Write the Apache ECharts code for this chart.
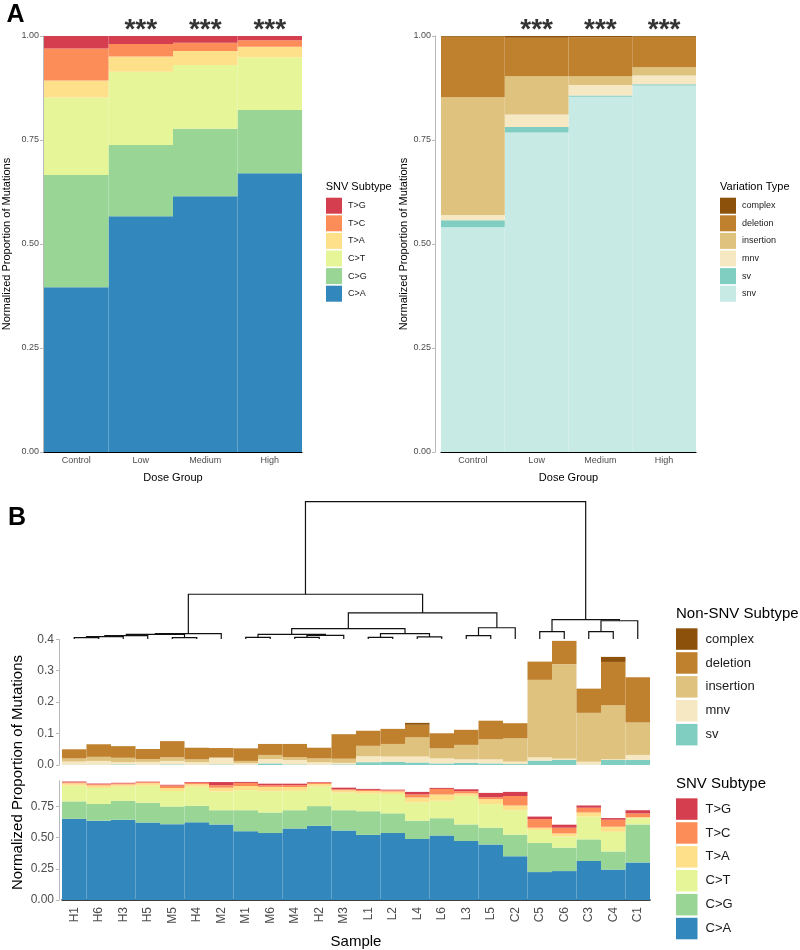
<!DOCTYPE html>
<html><head><meta charset="utf-8">
<script src="https://cdn.jsdelivr.net/npm/echarts@6/dist/echarts.min.js"></script>
<style>html,body{margin:0;padding:0;background:#fff}#c{width:800px;height:950px}</style>
</head><body><div id="c"></div>
<script>
// ---------------- DATA ----------------
const doseGroups = ['Control', 'Low', 'Medium', 'High'];
const signifGroups = ['Low', 'Medium', 'High'];
const signifLabel = '***';

// Panel A left: SNV subtype proportions per dose group
const groupCA = [0.396, 0.567, 0.615, 0.670];
const groupCG = [0.270, 0.171, 0.162, 0.152];
const groupCT = [0.186, 0.176, 0.153, 0.127];
const groupTA = [0.041, 0.037, 0.034, 0.025];
const groupTC = [0.077, 0.030, 0.020, 0.016];
const groupTG = [0.030, 0.019, 0.016, 0.010];

// Panel A right: variation type proportions per dose group
const groupSnv     = [0.540, 0.768, 0.854, 0.881];
const groupSv      = [0.017, 0.013, 0.003, 0.003];
const groupMnv     = [0.013, 0.030, 0.025, 0.021];
const groupIns     = [0.283, 0.092, 0.021, 0.020];
const groupDel     = [0.145, 0.093, 0.094, 0.073];
const groupComplex = [0.002, 0.004, 0.003, 0.002];

// Panel B samples (dendrogram order)
const sampleOrder = ['H1','H6','H3','H5','M5','H4','M2','M1','M6','M4','H2','M3',
                     'L1','L2','L4','L6','L3','L5','C2','C5','C6','C3','C4','C1'];

// Panel B top: non-SNV subtypes
const sampleSv      = [.001,.001,.002,.001,.002,.001,.002,.001,.005,.002,.001,.002,.009,.010,.008,.005,.007,.005,.003,.014,.016,.001,.016,.016];
const sampleMnv     = [.010,.012,.007,.009,.011,.008,.020,.005,.014,.014,.008,.005,.019,.017,.019,.016,.011,.013,.008,.011,.005,.009,.002,.016];
const sampleIns     = [.010,.013,.014,.009,.012,.009,.002,.007,.013,.009,.012,.013,.033,.040,.061,.032,.046,.064,.074,.246,.300,.156,.172,.103];
const sampleDel     = [.029,.040,.037,.032,.051,.037,.030,.040,.035,.042,.034,.078,.048,.048,.040,.048,.048,.059,.048,.058,.074,.077,.138,.144];
const sampleComplex = [0,0,0,0,0,0,0,0,0,0,0,0,0,0,.006,0,0,0,0,0,0,0,.016,0];

// Panel B bottom: SNV subtypes
const sampleCA = [.651,.636,.644,.621,.608,.623,.606,.552,.537,.573,.595,.557,.522,.537,.489,.517,.473,.445,.351,.224,.232,.313,.244,.300];
const sampleCG = [.140,.134,.151,.159,.142,.132,.114,.168,.165,.147,.158,.163,.190,.158,.147,.139,.133,.135,.173,.234,.188,.173,.145,.306];
const sampleCT = [.127,.129,.114,.137,.124,.154,.151,.161,.170,.156,.157,.142,.141,.155,.148,.140,.229,.189,.196,.104,.089,.183,.158,.050];
const sampleTA = [.018,.020,.018,.020,.024,.020,.030,.033,.035,.030,.020,.018,.020,.020,.038,.050,.020,.040,.038,.018,.025,.033,.041,.008];
const sampleTC = [.008,.010,.008,.008,.020,.010,.020,.025,.013,.015,.010,.008,.010,.010,.025,.045,.018,.015,.076,.069,.046,.038,.056,.031];
const sampleTG = [.006,.005,.005,.004,.006,.006,.025,.008,.013,.012,.005,.013,.008,.005,.020,.008,.015,.035,.033,.020,.024,.018,.013,.025];

// Dendrogram merges: [childA, childB, height]; numbers refer to earlier merges
const dendroMerges = [
  ['H1','H6',0.0095], [0,'H3',0.017], [1,'H5',0.024], ['M5','H4',0.0095],
  [2,3,0.033], [4,'M2',0.039],
  ['M1','M6',0.012], ['M4','H2',0.012], [7,'M3',0.027], [6,8,0.034],
  ['L1','L2',0.012], ['L4','L6',0.015], [10,11,0.039], [9,12,0.076],
  ['L3','L5',0.024], [14,'C2',0.082], [13,15,0.190], [5,16,0.326],
  ['C5','C6',0.053], ['C3','C4',0.053], [19,'C1',0.133], [18,20,0.141],
  [17,21,1.0]
];

const snvNames = ['C>A','C>G','C>T','T>A','T>C','T>G'];
const snvColors = ['#3288BD','#99D594','#E6F598','#FEE08B','#FC8D59','#D53E4F'];
const varNames = ['snv','sv','mnv','insertion','deletion','complex'];
const varColors = ['#C7EAE5','#80CDC1','#F6E8C3','#DFC27D','#BF812D','#8C510A'];

// ---------------- CHART ----------------
const FONT = '"Liberation Sans", Arial, Helvetica, sans-serif';
const AXIS_GREY = '#b8b8b8';
const TXT_GREY = '#4d4d4d';
const chart = echarts.init(document.getElementById('c'), null, {renderer: 'canvas', width: 800, height: 950});

function dendroSegments() {
  const pos = [];
  const get = r => typeof r === 'number' ? pos[r] : [sampleOrder.indexOf(r), 0];
  const segs = [];
  dendroMerges.forEach(([a, b, h], i) => {
    const pa = get(a), pb = get(b);
    segs.push({coords: [[pa[0], pa[1]], [pa[0], h], [pb[0], h], [pb[0], pb[1]]]});
    pos[i] = [(pa[0] + pb[0]) / 2, h];
  });
  return segs;
}

function barSeries(name, data, color, xi, stack) {
  return {
    type: 'bar', name, data, stack, xAxisIndex: xi, yAxisIndex: xi,
    barCategoryGap: '0%', itemStyle: {color}, silent: true
  };
}

const series = [];
const snvGroupData = [groupCA, groupCG, groupCT, groupTA, groupTC, groupTG];
const varGroupData = [groupSnv, groupSv, groupMnv, groupIns, groupDel, groupComplex];
const snvSampleData = [sampleCA, sampleCG, sampleCT, sampleTA, sampleTC, sampleTG];
const nonSnvSampleData = [sampleSv, sampleMnv, sampleIns, sampleDel, sampleComplex];

snvNames.forEach((n, i) => series.push(barSeries(n, snvGroupData[i], snvColors[i], 0, 'a1')));
varNames.forEach((n, i) => series.push(barSeries(n, varGroupData[i], varColors[i], 1, 'a2')));
varNames.slice(1).forEach((n, i) => series.push(barSeries(n, nonSnvSampleData[i], varColors[i + 1], 3, 'b1')));
snvNames.forEach((n, i) => series.push(barSeries(n, snvSampleData[i], snvColors[i], 4, 'b2')));

const starLabel = {show: true, formatter: signifLabel, position: 'top', distance: 0, offset: [0, 8],
  fontSize: 28, fontWeight: 'bold', color: '#000', fontFamily: FONT};
[0, 1].forEach(ax => series.push({
  type: 'scatter', xAxisIndex: ax, yAxisIndex: ax, symbolSize: 0, silent: true,
  data: signifGroups.map(g => [g, 1]), label: starLabel
}));

series.push({
  type: 'lines', coordinateSystem: 'cartesian2d', xAxisIndex: 2, yAxisIndex: 2,
  polyline: true, silent: true, lineStyle: {color: '#111', width: 1.2, opacity: 1},
  data: dendroSegments()
});

function doseX(gi) {
  return {
    type: 'category', gridIndex: gi, data: doseGroups,
    axisLine: {lineStyle: {color: '#000', width: 1.2}}, axisTick: {show: false},
    axisLabel: {fontSize: 9, color: TXT_GREY, margin: 4, fontFamily: FONT},
    name: 'Dose Group', nameLocation: 'middle', nameGap: 20,
    nameTextStyle: {fontSize: 11, color: '#000', fontFamily: FONT}
  };
}
function propY(gi, offset) {
  return {
    type: 'value', gridIndex: gi, min: 0, max: 1, interval: 0.25, offset,
    axisLine: {show: true, lineStyle: {color: AXIS_GREY}},
    axisTick: {show: true, length: 3, lineStyle: {color: AXIS_GREY}},
    axisLabel: {fontSize: 9, color: TXT_GREY, margin: 4, fontFamily: FONT, formatter: v => v.toFixed(2)},
    splitLine: {show: false}
  };
}

function legend(names, left, top, size, gap, fs, pad) {
  return {
    data: names, orient: 'vertical', left, top, itemWidth: size, itemHeight: size, itemGap: gap,
    icon: 'rect', selectedMode: false, padding: 0,
    textStyle: {fontSize: fs, color: '#1a1a1a', fontFamily: FONT, padding: [0, 0, 0, pad]}
  };
}

function txt(text, x, y, fs, opts = {}) {
  return {
    type: 'text', x, y, rotation: opts.rot || 0, silent: true,
    style: {
      text, fontSize: fs, fontFamily: FONT, fontWeight: opts.bold ? 'bold' : 'normal',
      fill: opts.color || '#000',
      textAlign: opts.align || 'left', align: opts.align || 'left',
      textVerticalAlign: 'middle', verticalAlign: 'middle'
    }
  };
}

const option = {
  animation: false,
  textStyle: {fontFamily: FONT},
  grid: [
    {left: 44, top: 36, width: 258, height: 416},
    {left: 441, top: 36, width: 255, height: 416},
    {left: 62, top: 501.7, width: 588, height: 137.3},
    {left: 62, top: 639.3, width: 588, height: 125.7},
    {left: 62, top: 780.8, width: 588, height: 125.2}
  ],
  xAxis: [
    doseX(0), doseX(1),
    {type: 'value', gridIndex: 2, min: -0.5, max: 23.5, show: false},
    {type: 'category', gridIndex: 3, data: sampleOrder, show: false},
    {type: 'category', gridIndex: 4, data: sampleOrder,
     axisLine: {lineStyle: {color: '#000', width: 1.5}}, axisTick: {show: false},
     axisLabel: {rotate: 90, fontSize: 12, color: TXT_GREY, margin: 7, fontFamily: FONT},
     name: 'Sample', nameLocation: 'middle', nameGap: 34,
     nameTextStyle: {fontSize: 15, color: '#000', fontFamily: FONT}}
  ],
  yAxis: [
    propY(0, 1), propY(1, 6),
    {type: 'value', gridIndex: 2, min: 0, max: 1, show: false},
    {type: 'value', gridIndex: 3, min: 0, max: 0.4, interval: 0.1, offset: 3,
     axisLine: {show: true, lineStyle: {color: AXIS_GREY}},
     axisTick: {show: true, length: 3, lineStyle: {color: AXIS_GREY}},
     axisLabel: {fontSize: 12, color: TXT_GREY, margin: 5, fontFamily: FONT, formatter: v => v.toFixed(1)},
     splitLine: {show: false}},
    {type: 'value', gridIndex: 4, min: 0, max: 0.956, offset: 3,
     axisLine: {show: true, lineStyle: {color: AXIS_GREY}},
     axisTick: {show: true, length: 3, lineStyle: {color: AXIS_GREY}, customValues: [0, 0.25, 0.5, 0.75]},
     axisLabel: {fontSize: 12, color: TXT_GREY, margin: 5, fontFamily: FONT, customValues: [0, 0.25, 0.5, 0.75],
                 formatter: v => v.toFixed(2)},
     splitLine: {show: false}}
  ],
  legend: [
    legend(snvNames.slice().reverse(), 326, 197.7, 16, 1.6, 9, 1),
    legend(varNames.slice().reverse(), 720, 197.7, 16, 1.6, 9, 1),
    legend(varNames.slice(1).reverse(), 676, 628.3, 21.5, 2.4, 13, 3),
    legend(snvNames.slice().reverse(), 676, 798.3, 21.5, 2.4, 13, 3)
  ],
  graphic: [
    txt('A', 6.5, 15.5, 25, {bold: true}),
    txt('B', 8, 518.5, 25, {bold: true}),
    txt('Normalized Proportion of Mutations', 7, 244, 11, {rot: Math.PI / 2, align: 'center'}),
    txt('Normalized Proportion of Mutations', 404, 244, 11, {rot: Math.PI / 2, align: 'center'}),
    txt('Normalized Proportion of Mutations', 17.5, 772.5, 15, {rot: Math.PI / 2, align: 'center'}),
    txt('SNV Subtype', 325.7, 187, 11),
    txt('Variation Type', 720, 187, 11),
    txt('Non-SNV Subtype', 676, 613.5, 15),
    txt('SNV Subtype', 676, 783.5, 15)
  ],
  series
};
chart.setOption(option);
</script>
</body></html>
